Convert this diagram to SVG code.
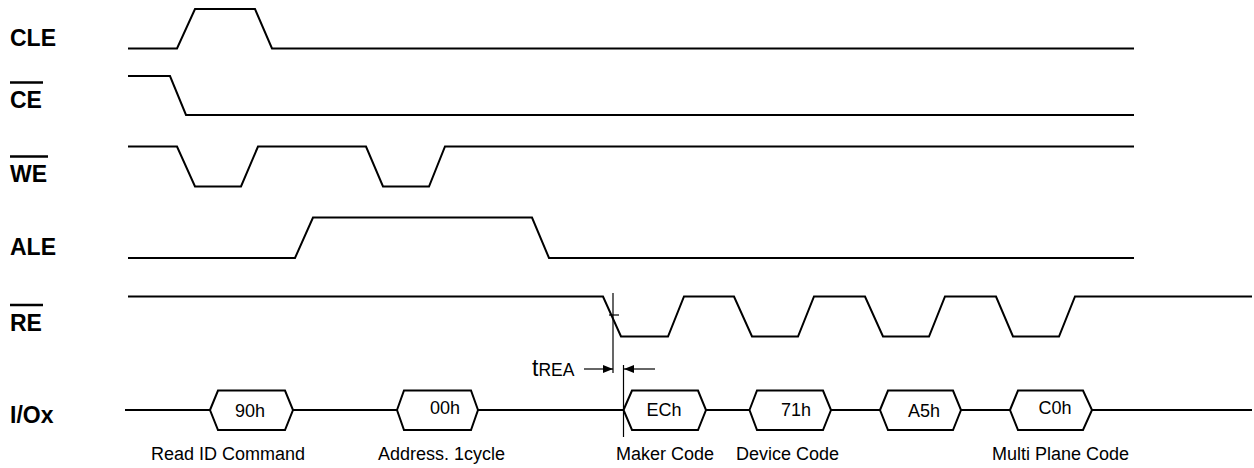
<svg xmlns="http://www.w3.org/2000/svg" width="1254" height="468" viewBox="0 0 1254 468">
<style>
.sig{fill:none;stroke:#000;stroke-width:2;stroke-linejoin:miter}
.lbl{font-family:"Liberation Sans",Arial,sans-serif;font-weight:bold;font-size:23px;fill:#000}
.bar{stroke:#000;stroke-width:2.5}
.box{fill:#fff;stroke:#000;stroke-width:2}
.bt{font-family:"Liberation Sans",Arial,sans-serif;font-size:18px;fill:#000;text-anchor:middle}
.cap{font-family:"Liberation Sans",Arial,sans-serif;font-size:18px;fill:#000}
.thin{stroke:#000;stroke-width:1.2;fill:none}
</style>
<defs>
<marker id="ah" markerWidth="10" markerHeight="8" refX="10" refY="4" orient="auto" markerUnits="userSpaceOnUse">
<path d="M0,0 L10,4 L0,8 Z" fill="#000"/>
</marker>
</defs>
<rect width="1254" height="468" fill="#fff"/>

<g id="CLE">
<text class="lbl" x="10" y="46">CLE</text>
<polyline class="sig" points="128,48.5 177,48.5 195,9 255,9 272,48.5 1134,48.5"/>
</g>
<g id="CE">
<line class="bar" x1="10" y1="82.5" x2="43" y2="82.5"/>
<text class="lbl" x="10" y="108">CE</text>
<polyline class="sig" points="128,76 170,76 186,115 1134,115"/>
</g>
<g id="WE">
<line class="bar" x1="10" y1="156.5" x2="48" y2="156.5"/>
<text class="lbl" x="10" y="182">WE</text>
<polyline class="sig" points="128,146.5 177,146.5 195,186.5 241,186.5 258,146.5 366,146.5 383,186.5 429,186.5 445,146.5 1134,146.5"/>
</g>
<g id="ALE">
<text class="lbl" x="10" y="255">ALE</text>
<polyline class="sig" points="128,258 295,258 313,217.5 532,217.5 549,258 1134,258"/>
</g>
<g id="RE">
<line class="bar" x1="10" y1="305" x2="43" y2="305"/>
<text class="lbl" x="10" y="331">RE</text>
<polyline class="sig" points="128,296.5 603,296.5 621,336.5 668,336.5 684,296.5 734,296.5 752,336.5 798,336.5 814,296.5 865,296.5 883,336.5 929,336.5 945,296.5 996,296.5 1013,336.5 1059,336.5 1075,296.5 1252,296.5"/>
</g>
<g id="IO">
<text class="lbl" x="10" y="423">I/Ox</text>
<polyline class="sig" points="125,410 1252,410"/>
</g>

<g id="box-90h">
<polygon class="box" points="210,410 218,390.5 285,390.5 293,410 285,430 218,430"/>
<text class="bt" x="250" y="417">90h</text>
</g>
<g id="box-00h">
<polygon class="box" points="397,410 404,390.5 471,390.5 478,410 471,430 404,430"/>
<text class="bt" x="445" y="414">00h</text>
</g>
<g id="box-ECh">
<polygon class="box" points="623.5,410 632,390.5 698,390.5 706,410 698,430 632,430"/>
<text class="bt" x="664" y="416">ECh</text>
</g>
<g id="box-71h">
<polygon class="box" points="749.5,410 757,390.5 823,390.5 831,410 823,430 757,430"/>
<text class="bt" x="796" y="416">71h</text>
</g>
<g id="box-A5h">
<polygon class="box" points="880,410 888,390.5 953,390.5 961,410 953,430 888,430"/>
<text class="bt" x="924" y="417">A5h</text>
</g>
<g id="box-C0h">
<polygon class="box" points="1010,410 1018,390.5 1083,390.5 1092,410 1083,430 1018,430"/>
<text class="bt" x="1055" y="414">C0h</text>
</g>

<g id="captions">
<text class="cap" x="151" y="460">Read ID Command</text>
<text class="cap" x="378" y="460">Address. 1cycle</text>
<text class="cap" x="616" y="460">Maker Code</text>
<text class="cap" x="736" y="460">Device Code</text>
<text class="cap" x="992" y="460">Multi Plane Code</text>
</g>

<g id="connectors">
<line class="thin" x1="613" y1="293" x2="613" y2="373"/>
<line class="thin" x1="609" y1="315" x2="619" y2="315"/>
<line class="thin" x1="623.5" y1="365" x2="623.5" y2="437"/>
<line class="thin" x1="584" y1="369" x2="613" y2="369" marker-end="url(#ah)"/>
<line class="thin" x1="655" y1="369" x2="624" y2="369" marker-end="url(#ah)"/>
</g>
<g id="tREA">
<text font-family="'Liberation Sans',Arial,sans-serif" x="532" y="376"><tspan font-size="23">t</tspan><tspan font-size="17.5">REA</tspan></text>
</g>
</svg>
